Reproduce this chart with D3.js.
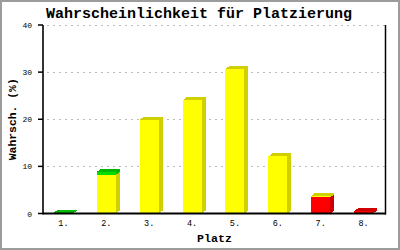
<!DOCTYPE html>
<html>
<head>
<meta charset="utf-8">
<script src="https://cdn.jsdelivr.net/npm/d3@7"></script>
<style>
body { margin: 0; background: #fff; }
text { font-family: "Liberation Mono", "DejaVu Sans Mono", monospace; }
</style>
</head>
<body>
<div class="d3-container"></div>
<script>
const places = ["1.", "2.", "3.", "4.", "5.", "6.", "7.", "8."];
const red = [0, 0, 0, 0, 0, 0, 3.4, 0.5];
const yellow = [0, 8.2, 19.9, 24, 30.7, 12.1, 0.35, 0];
const green = [0.2, 0.6, 0, 0, 0, 0, 0, 0];
const yTicks = [0, 10, 20, 30, 40];

const seriesColors = [
    { key: "red", front: "#ff0000", dark: "#cc0000" },
    { key: "yellow", front: "#ffff00", dark: "#d0d000" },
    { key: "green", front: "#00dd00", dark: "#00b800" }
];

const width = 400, height = 250;
const plotLeft = 43, plotRight = 386, plotTop = 25, plotBottom = 213.5;
const dx = 4, dy = 3, barW = 19;

const table = places.map((p, i) => ({ place: p, red: red[i], yellow: yellow[i], green: green[i] }));
const stack = d3.stack().keys(["red", "yellow", "green"])(table);

const svg = d3.select(".d3-container").append("svg")
    .attr("width", width).attr("height", height);

svg.append("rect").attr("x", 1).attr("y", 1).attr("width", width - 2).attr("height", height - 2)
    .attr("fill", "#fff").attr("stroke", "#9c9c9c").attr("stroke-width", 2);

const x = d3.scaleBand().domain(places).range([plotLeft, plotRight]).padding(0);
const y = d3.scaleLinear().domain([0, 40]).range([plotBottom, plotTop]);

// grid
svg.append("g").selectAll("line").data(yTicks.filter(d => d > 0)).join("line")
    .attr("x1", plotLeft + 4).attr("x2", plotRight)
    .attr("y1", d => Math.round(y(d)) + 0.5).attr("y2", d => Math.round(y(d)) + 0.5)
    .attr("stroke", "#bbbbbb").attr("stroke-dasharray", "2,4");

// bars
const barX = d => x(d.data.place) + (x.bandwidth() - barW) / 2 - 1;
const bars = svg.append("g").attr("shape-rendering", "crispEdges");

// highest non-empty layer per bar gets the top face
const topLayer = table.map((row, i) => {
    let t = -1;
    stack.forEach((layer, li) => { if (layer[i][1] - layer[i][0] > 0) t = li; });
    return t;
});

stack.forEach((layer, li) => {
    const c = seriesColors[li];
    const segs = layer.map((d, i) => Object.assign(d, { i })).filter(d => d[1] - d[0] > 0);
    bars.selectAll(null).data(segs).join("rect")
        .attr("x", barX).attr("y", d => y(d[1]))
        .attr("width", barW).attr("height", d => y(d[0]) - y(d[1]))
        .attr("fill", c.front);
    bars.selectAll(null).data(segs).join("polygon")
        .attr("points", d => {
            const x1 = barX(d) + barW, y0 = y(d[0]), y1 = y(d[1]);
            return [[x1, y1], [x1 + dx, y1 - dy], [x1 + dx, y0 - dy], [x1, y0]].join(" ");
        })
        .attr("fill", c.dark);
    bars.selectAll(null).data(segs.filter(d => topLayer[d.i] === li)).join("polygon")
        .attr("points", d => {
            const x0 = barX(d), y1 = y(d[1]);
            return [[x0, y1], [x0 + dx, y1 - dy], [x0 + barW + dx, y1 - dy], [x0 + barW, y1]].join(" ");
        })
        .attr("fill", c.dark);
});

// axes
svg.append("line").attr("x1", plotLeft).attr("x2", plotLeft).attr("y1", plotTop).attr("y2", plotBottom + 1)
    .attr("stroke", "#000").attr("stroke-width", 1.6);
svg.append("line").attr("x1", plotRight - 0.5).attr("x2", plotRight - 0.5).attr("y1", plotTop).attr("y2", plotBottom + 1)
    .attr("stroke", "#000").attr("stroke-width", 1.5);
svg.append("line").attr("x1", plotLeft).attr("x2", plotRight).attr("y1", plotBottom).attr("y2", plotBottom)
    .attr("stroke", "#000").attr("stroke-width", 2);

const yAxis = svg.append("g");
yAxis.selectAll("line").data(yTicks).join("line")
    .attr("x1", 38).attr("x2", plotLeft).attr("y1", d => y(d)).attr("y2", d => y(d))
    .attr("stroke", "#000").attr("stroke-width", 1.5);
yAxis.selectAll("text").data(yTicks).join("text")
    .attr("x", 32).attr("y", d => y(d) + 3)
    .attr("text-anchor", "end").attr("font-size", 8).text(d => d);

svg.append("g").selectAll("text").data(places).join("text")
    .attr("x", d => x(d) + x.bandwidth() / 2 - 1).attr("y", 226)
    .attr("text-anchor", "middle").attr("font-size", 8.5).text(d => d);

// titles
svg.append("text").attr("x", 199).attr("y", 18).attr("text-anchor", "middle")
    .attr("font-size", 15).attr("font-weight", "bold").text("Wahrscheinlichkeit für Platzierung");
svg.append("text").attr("x", (plotLeft + plotRight) / 2).attr("y", 242).attr("text-anchor", "middle")
    .attr("font-size", 11.6).attr("font-weight", "bold").text("Platz");
svg.append("text").attr("transform", `translate(16,${(plotTop + plotBottom) / 2}) rotate(-90)`)
    .attr("text-anchor", "middle").attr("font-size", 11.4).attr("font-weight", "bold").text("Wahrsch. (%)");
</script>
</body>
</html>
